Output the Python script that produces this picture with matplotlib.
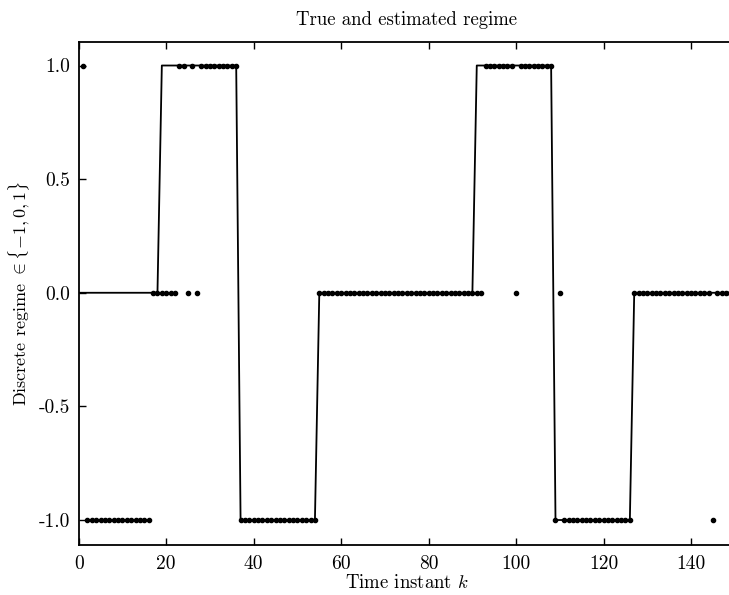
import numpy as np
import matplotlib
matplotlib.use("Agg")
import matplotlib.pyplot as plt

# True regime (run-length: level, number of samples), starting at k = 0
TRUE_LEVELS = [0, 1, -1, 0, 1, -1, 0]
TRUE_LENGTHS = [19, 18, 18, 36, 18, 18, 24]

# Estimated regime (run-length), starting at k = 1
EST_LEVELS = [1, -1, 0, 1, 0, 1, 0, 1, -1, 0, 1, 0, 1, -1, 0, -1, 0, -1, 0]
EST_LENGTHS = [1, 15, 6, 2, 1, 1, 1, 9, 18, 38, 7, 1, 8, 1, 1, 16, 18, 1, 4]

X_TICKS = [0, 20, 40, 60, 80, 100, 120, 140]
Y_TICKS = [-1.0, -0.5, 0.0, 0.5, 1.0]

plt.rcParams["font.family"] = ["cmr10", "DejaVu Serif"]
plt.rcParams["mathtext.fontset"] = "cm"
plt.rcParams["axes.unicode_minus"] = False

true_regime = np.repeat(TRUE_LEVELS, TRUE_LENGTHS)
k_true = np.arange(len(true_regime))
est_regime = np.repeat(EST_LEVELS, EST_LENGTHS)
k_est = np.arange(1, len(est_regime) + 1)

fig = plt.figure(figsize=(7.29, 5.95), dpi=100)
# the original figure is cropped on the right, so the axes run past the edge
ax = fig.add_axes([0.108, 0.084, 0.9, 0.846])

ax.plot(k_true, true_regime, color="black", linewidth=1.3)
ax.plot(k_est, est_regime, linestyle="none", marker="o", markersize=3.0,
        color="black")

ax.set_xlim(0, 150)
ax.set_ylim(-1.11, 1.105)
ax.set_xticks(X_TICKS)
ax.set_xticklabels([str(t) for t in X_TICKS])
ax.set_yticks(Y_TICKS)
ax.set_yticklabels([f"{t:.1f}" for t in Y_TICKS])
ax.tick_params(direction="in", top=True, right=False, labelsize=14,
               length=5, width=1)
ax.tick_params(axis="x", pad=7)
ax.tick_params(axis="y", pad=6)
ax.spines["right"].set_visible(False)
for s in ("left", "top", "bottom"):
    ax.spines[s].set_linewidth(1.3)

ax.set_title("True and estimated regime", fontsize=13.5, pad=12)
ax.set_xlabel(r"Time instant $k$", fontsize=13.5, labelpad=1)
ax.set_ylabel(r"Discrete regime $\in \{-1, 0, 1\}$", fontsize=13, labelpad=5)

fig.savefig("out.png", dpi=100)
